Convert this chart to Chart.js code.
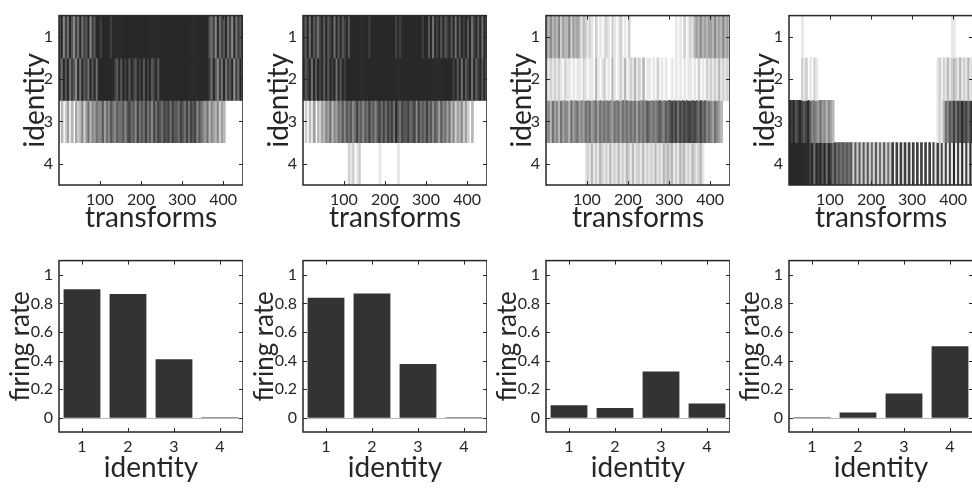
<!DOCTYPE html>
<html>
<head>
<meta charset="utf-8">
<script src="https://cdn.jsdelivr.net/npm/chart.js@4.4.1/dist/chart.umd.min.js"></script>
<style>
    html, body { margin: 0; padding: 0; background: #fff; width: 972px; height: 489px; overflow: hidden; }
    canvas { position: absolute; }
</style>
</head>
<body>
<script>
// ---- data ----
const identities = [1, 2, 3, 4];
const transformTicks = [100, 200, 300, 400];
const rateTicks = [0, 0.2, 0.4, 0.6, 0.8, 1];
const binSize = 5; // transforms per character in the raster strings

// raster darkness per bin of 5 transforms, 0 = white .. 9 = black, one string per identity
const rasterA = [
    "7958697586 9687958799 8999989999 9999999999 9999999999 9999999999 9999999999 9997685968 7968596879",
    "8697968759 6978697969 9999999879 7989798798 9798978979 9999999999 9999999999 9998697586 9687958697",
    "0302413042 3524635465 5746576576 6757867586 7686758687 6878687768 7686878576 5463543524 3000000000",
    ""
];
const rasterB = [
    "8796978689 7978969797 8979999999 9989999999 9999989899 9999999989 9796989797 8979697989 7968979697",
    "9789697989 7979896979 8999999999 9999999999 9999999999 9999999999 9999999999 9998979697 8969789796",
    "0203140324 3546354657 5767568675 7686757868 6878697687 7867858676 8675764756 4635243524 2030000000",
    "0000000000 0000000000 0021201200 0000000100 0000001000"
];
const rasterC = [
    "4353435243 3524343132 1210201012 1021012010 2000000000 0000000000 0001010201 2134353434 4353435342",
    "2121212102 1101011021 0110310120 1031012030 1213120301 1010201010 0101010101 1010201021 2121312121",
    "4536453645 5364564546 5645646565 6546564656 5656465657 6565676576 7878687878 8787686756 5465430000",
    "0000000000 0000000001 2131213212 1312131213 2131221312 1213121323 2312132312 1321231000"
];
const rasterD = [
    "0000001000 0000000000 0000000000 0000000000 0000000000 0000000000 0000000000 0000000001 1000000000",
    "0000002120 1021000000 0000000000 0000000000 0000000000 0000000000 0000000000 0012021312 3213121312",
    "9897898789 7565464535 4300000000 0000000000 0000000000 0000000000 0000000000 0012136576 8687978689",
    "9999999999 8969897969 8686767676 7272727272 6272627262 8080808080 8080808080 8180818181 9181918191"
];

const ratesA = [0.90, 0.867, 0.41, 0.004];
const ratesB = [0.84, 0.87, 0.376, 0.004];
const ratesC = [0.088, 0.068, 0.324, 0.099];
const ratesD = [0.004, 0.036, 0.17, 0.50];

const rasters = [rasterA, rasterB, rasterC, rasterD];
const rates = [ratesA, ratesB, ratesC, ratesD];

// ---- layout / style ----
const panelLeft = [0, 244, 487, 730];
const axisColor = '#262626';
const fontFamily = 'Lato';

const gray = (d) => {
    const c = Math.round(255 - d / 9 * 215);
    return `rgb(${c},${c},${c})`;
};

// matlab style box with inward ticks, plus a light zero line for bar plots
const matlabBox = {
    id: 'matlabBox',
    beforeDatasetsDraw(chart, args, opts) {
        if (!opts.zeroLine) return;
        const { ctx, chartArea: a, scales: { y } } = chart;
        const py = Math.round(y.getPixelForValue(0)) + 0.5;
        ctx.save();
        ctx.strokeStyle = '#b8b8b8';
        ctx.lineWidth = 1;
        ctx.beginPath();
        ctx.moveTo(a.left, py);
        ctx.lineTo(a.right, py);
        ctx.stroke();
        ctx.restore();
    },
    afterDatasetsDraw(chart) {
        const { ctx, chartArea: a, scales: { x, y } } = chart;
        const tick = 4;
        ctx.save();
        ctx.strokeStyle = axisColor;
        ctx.lineWidth = 1;
        ctx.beginPath();
        x.ticks.forEach((t, i) => {
            const px = Math.round(x.getPixelForTick(i)) + 0.5;
            ctx.moveTo(px, a.bottom); ctx.lineTo(px, a.bottom - tick);
            ctx.moveTo(px, a.top); ctx.lineTo(px, a.top + tick);
        });
        y.ticks.forEach((t, i) => {
            const py = Math.round(y.getPixelForTick(i)) + 0.5;
            ctx.moveTo(a.left, py); ctx.lineTo(a.left + tick, py);
            ctx.moveTo(a.right, py); ctx.lineTo(a.right - tick, py);
        });
        ctx.stroke();
        ctx.lineWidth = 1.5;
        ctx.strokeRect(a.left, a.top, a.right - a.left, a.bottom - a.top);
        ctx.restore();
    }
};

const makeCanvas = (left, top, width, height) => {
    const canvas = document.createElement('canvas');
    canvas.width = width;
    canvas.height = height;
    canvas.style.left = left + 'px';
    canvas.style.top = top + 'px';
    document.body.appendChild(canvas);
    return canvas;
};

const tickFont = { family: fontFamily, size: 16 };
const titleFont = { family: fontFamily, size: 28, lineHeight: 1 };
const rateTitleFont = { family: fontFamily, size: 26, lineHeight: 1 };

const rasterDatasets = (rows) => rows.map((row, r) => {
    const digits = row.replace(/\s/g, '');
    const points = [];
    for (let i = 0; i < digits.length; i++) {
        const d = +digits[i];
        if (d > 0) {
            points.push({
                x: i * binSize + binSize / 2 + 0.5,
                y: [identities[r] - 0.5, identities[r] + 0.5],
                d: d
            });
        }
    }
    return {
        data: points,
        backgroundColor: (ctx) => gray(ctx.raw ? ctx.raw.d : 0),
        borderWidth: 0,
        grouped: false,
        barPercentage: 1,
        categoryPercentage: 1
    };
});

const renderRaster = (i) => {
    const canvas = makeCanvas(panelLeft[i], 0, 243, 245);
    new Chart(canvas, {
        type: 'bar',
        data: { datasets: rasterDatasets(rasters[i]) },
        plugins: [matlabBox],
        options: {
            responsive: false,
            animation: false,
            layout: { padding: { top: 8, left: 0, right: 0, bottom: 0 } },
            plugins: { legend: { display: false }, tooltip: { enabled: false }, matlabBox: {} },
            scales: {
                x: {
                    type: 'linear',
                    offset: false,
                    min: 0.5,
                    max: 448.5,
                    grid: { display: false, drawTicks: false },
                    border: { display: false },
                    afterBuildTicks: (s) => { s.ticks = transformTicks.map(v => ({ value: v })); },
                    afterFit: (s) => { s.height = 60; },
                    ticks: { font: tickFont, color: axisColor, padding: 5, maxRotation: 0 },
                    title: { display: true, text: 'transforms', font: titleFont, color: axisColor, padding: { top: 0, bottom: 13.5 } }
                },
                y: {
                    type: 'linear',
                    reverse: true,
                    min: 0.5,
                    max: 4.5,
                    grid: { display: false, drawTicks: false },
                    border: { display: false },
                    afterBuildTicks: (s) => { s.ticks = identities.map(v => ({ value: v })); },
                    afterFit: (s) => { s.width = 59; },
                    ticks: { font: tickFont, color: axisColor, padding: 6 },
                    title: { display: true, text: 'identity', font: titleFont, color: axisColor, padding: { top: 20.5, bottom: 0 } }
                }
            }
        }
    });
};

const renderRates = (i) => {
    const canvas = makeCanvas(panelLeft[i], 245, 243, 244);
    new Chart(canvas, {
        type: 'bar',
        data: {
            labels: identities.map(String),
            datasets: [{
                data: rates[i],
                backgroundColor: '#333333',
                borderWidth: 0,
                barPercentage: 0.8,
                categoryPercentage: 1
            }]
        },
        plugins: [matlabBox],
        options: {
            responsive: false,
            animation: false,
            layout: { padding: { top: 10, left: 0, right: 0, bottom: 0 } },
            plugins: { legend: { display: false }, tooltip: { enabled: false }, matlabBox: { zeroLine: true } },
            scales: {
                x: {
                    grid: { display: false, drawTicks: false },
                    border: { display: false },
                    afterFit: (s) => { s.height = 57; },
                    ticks: { font: tickFont, color: axisColor, padding: 5 },
                    title: { display: true, text: 'identity', font: titleFont, color: axisColor, padding: { top: 0, bottom: 6.8 } }
                },
                y: {
                    min: -0.1,
                    max: 1.1,
                    grid: { display: false, drawTicks: false },
                    border: { display: false },
                    afterBuildTicks: (s) => { s.ticks = rateTicks.map(v => ({ value: v })); },
                    afterFit: (s) => { s.width = 59; },
                    ticks: { font: tickFont, color: axisColor, padding: 6, callback: (v) => String(+v.toFixed(1)) },
                    title: { display: true, text: 'firing rate', font: rateTitleFont, color: axisColor, padding: { top: 8, bottom: 0 } }
                }
            }
        }
    });
};

document.addEventListener('DOMContentLoaded', () => {
    for (let i = 0; i < 4; i++) {
        renderRaster(i);
        renderRates(i);
    }
});
</script>
</body>
</html>
